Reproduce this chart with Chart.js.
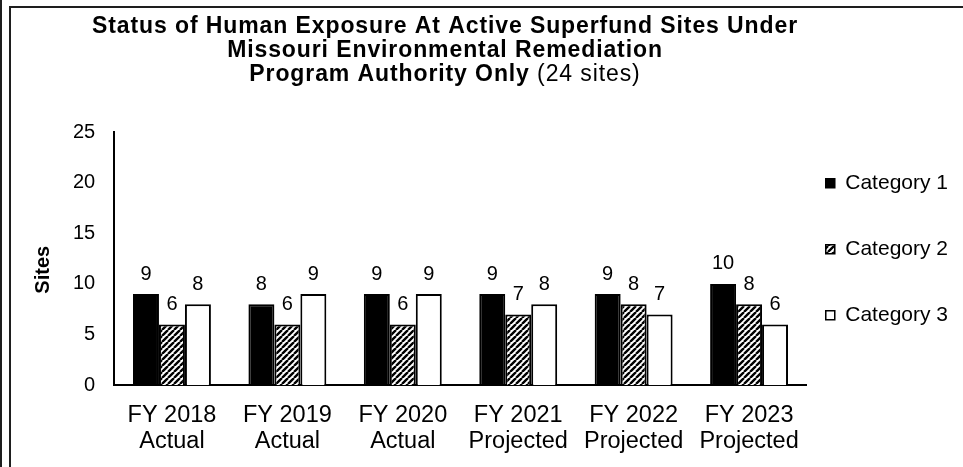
<!DOCTYPE html>
<html>
<head>
<meta charset="utf-8">
<script src="https://cdn.jsdelivr.net/npm/chart.js@4.4.1/dist/chart.umd.min.js"></script>
<style>
  html, body { margin: 0; padding: 0; background: #fff; overflow: hidden; }
  #edge { position: absolute; left: 0; top: 0; width: 2px; height: 467px; background: #1e1e1e; }
  #frame { position: absolute; left: 9px; top: 6px; width: 1000px; height: 600px; border: 2px solid #1e1e1e; }
  #wrap { position: absolute; left: 0; top: 0; width: 963px; height: 467px; }
</style>
</head>
<body>
<div id="edge"></div>
<div id="frame"></div>
<div id="wrap"><canvas id="myChart"></canvas></div>
<script>
// Fiscal years on the x axis (two-line labels)
const years = [
    ['FY 2018', 'Actual'],
    ['FY 2019', 'Actual'],
    ['FY 2020', 'Actual'],
    ['FY 2021', 'Projected'],
    ['FY 2022', 'Projected'],
    ['FY 2023', 'Projected']
];
const seriesNames = ['Category 1', 'Category 2', 'Category 3'];
const category1 = [9, 8, 9, 9, 9, 10];
const category2 = [6, 6, 6, 7, 8, 8];
const category3 = [8, 9, 9, 8, 7, 6];
const yTicks = [0, 5, 10, 15, 20, 25];

const titleBold = ['Status of Human Exposure At Active Superfund Sites Under', 'Missouri Environmental Remediation', 'Program Authority Only'];
const titleTail = ' (24 sites)';

const FONT = '"Liberation Sans", Arial, sans-serif';
Chart.defaults.font.family = FONT;
Chart.defaults.color = '#000';

// Diagonal hatch for Category 2
function makeHatch() {
    const c = document.createElement('canvas');
    c.width = 6; c.height = 6;
    const g = c.getContext('2d');
    g.fillStyle = '#fff';
    g.fillRect(0, 0, 6, 6);
    g.strokeStyle = '#000';
    g.lineWidth = 2.4;
    g.beginPath();
    for (let k = -6; k <= 6; k += 6) {
        g.moveTo(k, 6);
        g.lineTo(k + 6, 0);
    }
    g.stroke();
    return g.createPattern(c, 'repeat');
}

// Values above each bar
const barLabels = {
    id: 'barLabels',
    afterDatasetsDraw(chart) {
        const ctx = chart.ctx;
        ctx.save();
        ctx.font = '20px ' + FONT;
        ctx.fillStyle = '#000';
        ctx.textAlign = 'center';
        ctx.textBaseline = 'middle';
        chart.data.datasets.forEach((ds, i) => {
            chart.getDatasetMeta(i).data.forEach((bar, j) => {
                ctx.fillText(ds.data[j], bar.x, bar.y - 20);
            });
        });
        ctx.restore();
    }
};

// Title with a bold part and a normal part on the last line
const chartTitle = {
    id: 'chartTitle',
    afterDraw(chart) {
        const ctx = chart.ctx;
        const cx = 445;
        const ys = [27, 51, 75];
        const size = 23;
        ctx.save();
        ctx.fillStyle = '#000';
        ctx.textBaseline = 'middle';
        ctx.textAlign = 'left';
        ctx.letterSpacing = '0.9px';
        titleBold.forEach((line, i) => {
            ctx.font = 'bold ' + size + 'px ' + FONT;
            const wb = ctx.measureText(line).width;
            let wt = 0;
            if (i === titleBold.length - 1) {
                ctx.font = size + 'px ' + FONT;
                wt = ctx.measureText(titleTail).width;
            }
            const x0 = cx - (wb + wt) / 2;
            ctx.font = 'bold ' + size + 'px ' + FONT;
            ctx.fillText(line, x0, ys[i]);
            if (wt) {
                ctx.font = size + 'px ' + FONT;
                ctx.fillText(titleTail, x0 + wb, ys[i]);
            }
        });
        ctx.restore();
    }
};

let ctx = document.getElementById('myChart').getContext('2d');
let myChart = new Chart(ctx, {
    type: 'bar',
    data: {
        labels: years,
        datasets: [
            {
                label: seriesNames[0],
                data: category1,
                backgroundColor: '#000',
                borderColor: '#000',
                borderWidth: 2
            },
            {
                label: seriesNames[1],
                data: category2,
                backgroundColor: makeHatch(),
                borderColor: '#000',
                borderWidth: 2
            },
            {
                label: seriesNames[2],
                data: category3,
                backgroundColor: '#fff',
                borderColor: '#000',
                borderWidth: 2
            }
        ]
    },
    options: {
        responsive: true,
        maintainAspectRatio: false,
        animation: false,
        layout: {
            padding: { left: 31, top: 132, right: 5, bottom: 13 }
        },
        datasets: {
            bar: { categoryPercentage: 0.675, barPercentage: 1 }
        },
        plugins: {
            title: { display: false },
            tooltip: { enabled: false },
            legend: {
                position: 'right',
                fullSize: false,
                title: { display: true, text: ' ', font: { size: 7, lineHeight: 1 }, padding: 0 },
                labels: {
                    boxWidth: 9,
                    boxHeight: 9,
                    padding: 19,
                    color: '#000',
                    font: { size: 21, lineHeight: 2.238 },
                    // wrap text so item spacing follows the font line height
                    generateLabels(chart) {
                        return Chart.defaults.plugins.legend.labels.generateLabels(chart)
                            .map(item => Object.assign(item, { text: [item.text], lineWidth: 1.5 }));
                    }
                }
            }
        },
        scales: {
            x: {
                grid: { display: false, drawTicks: false },
                border: { display: true, color: '#000', width: 2 },
                ticks: { padding: 17, color: '#000', font: { size: 23.5, lineHeight: 1.1 }, maxRotation: 0 },
                afterFit: scale => { scale.height -= 17; }
            },
            y: {
                min: 0,
                max: 25,
                afterBuildTicks: axis => { axis.ticks = yTicks.map(v => ({ value: v })); },
                grid: { display: false, drawTicks: false },
                border: { display: true, color: '#000', width: 2 },
                ticks: { padding: 19, color: '#000', font: { size: 20 } },
                afterFit: scale => { scale.width -= 19; },
                title: {
                    display: true,
                    text: 'Sites    ',
                    color: '#000',
                    font: { size: 20, weight: 'bold' },
                    padding: { top: 0, bottom: 18 }
                }
            }
        }
    },
    plugins: [barLabels, chartTitle]
});
</script>
</body>
</html>
